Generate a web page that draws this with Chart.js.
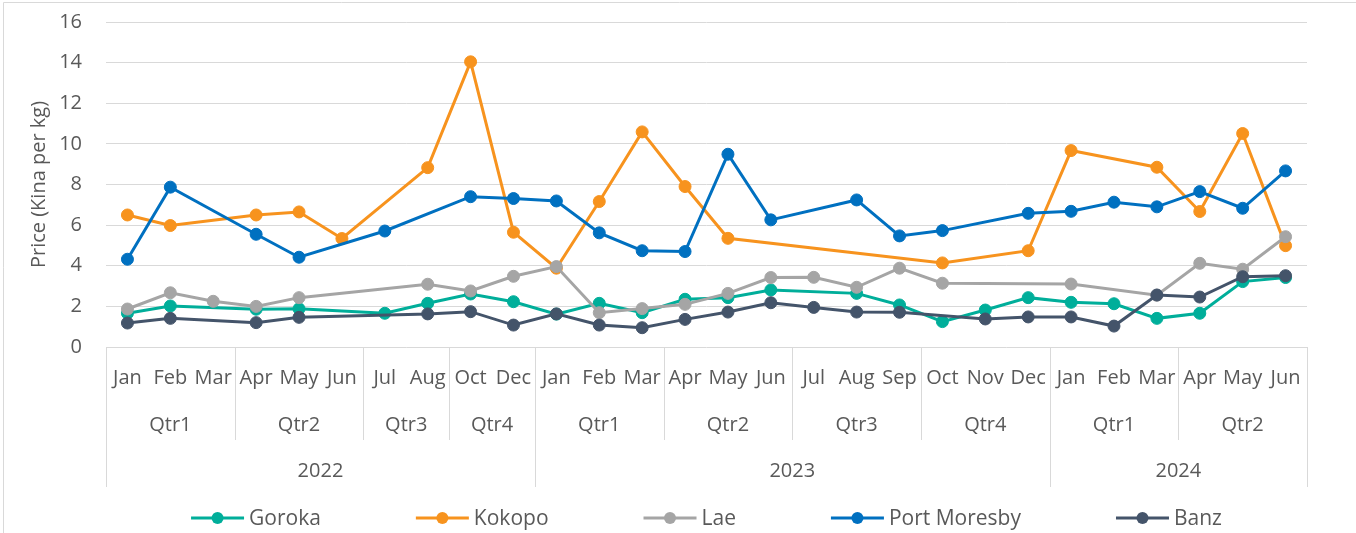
<!DOCTYPE html>
<html lang="en">
<head>
<meta charset="UTF-8">
<title>Price (Kina per kg)</title>
<script src="https://cdn.jsdelivr.net/npm/chart.js"></script>
<style>
  html, body { margin: 0; padding: 0; background: #fff; }
  #wrap { width: 1356px; height: 533px; }
</style>
</head>
<body>
<div id="wrap"><canvas id="myChart" width="1356" height="533"></canvas></div>
<script>
const months = ['Jan','Feb','Mar','Apr','May','Jun','Jul','Aug','Oct','Dec',
                'Jan','Feb','Mar','Apr','May','Jun','Jul','Aug','Sep','Oct','Nov','Dec',
                'Jan','Feb','Mar','Apr','May','Jun'];
const quarters = ['Qtr1','Qtr2','Qtr3','Qtr4','Qtr1','Qtr2','Qtr3','Qtr4','Qtr1','Qtr2'];
const quarterSizes = [3,3,2,2,3,3,3,3,3,3];
const years = ['2022','2023','2024'];
const yearSizes = [10,12,6];
const yTicks = [0,2,4,6,8,10,12,14,16];

const goroka = [1.66,2.02,null,1.86,1.88,null,1.66,2.15,2.61,2.23,
                1.62,2.15,1.69,2.35,2.43,2.81,null,2.64,2.07,1.25,1.82,2.43,
                2.20,2.13,1.41,1.66,3.22,3.42];
const kokopo = [6.50,5.98,null,6.50,6.65,5.34,null,8.83,14.04,5.65,
                3.88,7.16,10.59,7.90,5.35,null,null,null,null,4.14,null,4.74,
                9.67,null,8.85,6.67,10.51,4.99];
const lae = [1.87,2.67,2.25,2.00,2.43,null,null,3.09,2.76,3.48,
             3.96,1.69,1.89,2.10,2.64,3.42,3.43,2.94,3.88,3.14,null,null,
             3.10,null,2.55,4.12,3.83,5.43];
const portMoresby = [4.32,7.87,null,5.55,4.42,null,5.71,null,7.40,7.31,
                     7.19,5.62,4.74,4.70,9.49,6.26,null,7.24,5.47,5.73,null,6.58,
                     6.68,7.13,6.90,7.65,6.83,8.67];
const banz = [1.18,1.41,null,1.20,1.46,null,null,1.63,1.74,1.08,
              1.63,1.08,0.95,1.36,1.72,2.18,1.95,1.72,1.71,null,1.38,1.48,
              1.48,1.03,2.56,2.46,3.46,3.51];

const seriesNames = ['Goroka','Kokopo','Lae','Port Moresby','Banz'];
const seriesData = [goroka, kokopo, lae, portMoresby, banz];
const seriesColors = ['#00AE9A','#F7931E','#A5A5A5','#0070C0','#44546A'];

const FONT = "'Open Sans', sans-serif";
const TEXT = '#595959';
const GRID = '#D9D9D9';

// draws the quarter / year rows under the month labels
const multiLevelAxis = {
  id: 'multiLevelAxis',
  afterDraw(chart) {
    const ctx = chart.ctx;
    const xs = chart.scales.x;
    const top = chart.chartArea.bottom;
    const half = (xs.getPixelForValue(1) - xs.getPixelForValue(0)) / 2;
    const qBottom = top + 93;
    const yBottom = top + 140;
    ctx.save();
    ctx.strokeStyle = GRID;
    ctx.lineWidth = 1;
    ctx.fillStyle = TEXT;
    ctx.font = '20px ' + FONT;
    ctx.textAlign = 'center';
    ctx.textBaseline = 'middle';
    const vline = (x, y1) => {
      const px = Math.round(x) + 0.5;
      ctx.beginPath();
      ctx.moveTo(px, top);
      ctx.lineTo(px, y1);
      ctx.stroke();
    };
    vline(xs.getPixelForValue(0) - half, yBottom);
    let idx = 0;
    quarterSizes.forEach((n, k) => {
      const x0 = xs.getPixelForValue(idx) - half;
      const x1 = xs.getPixelForValue(idx + n - 1) + half;
      ctx.fillText(quarters[k], (x0 + x1) / 2, top + 78);
      vline(x1, qBottom);
      idx += n;
    });
    idx = 0;
    yearSizes.forEach((n, k) => {
      const x0 = xs.getPixelForValue(idx) - half;
      const x1 = xs.getPixelForValue(idx + n - 1) + half;
      ctx.fillText(years[k], (x0 + x1) / 2, top + 124);
      vline(x1, yBottom);
      idx += n;
    });
    // outer chart border
    ctx.beginPath();
    ctx.moveTo(3.5, chart.height);
    ctx.lineTo(3.5, 2.5);
    ctx.lineTo(chart.width, 2.5);
    ctx.stroke();
    ctx.restore();
  }
};

// legend: line with a marker, then the name
const lineLegend = {
  id: 'lineLegend',
  afterDraw(chart) {
    const ctx = chart.ctx;
    const area = chart.chartArea;
    ctx.save();
    ctx.font = '21px ' + FONT;
    ctx.textBaseline = 'middle';
    ctx.textAlign = 'left';
    const sym = 53, gap = 5, spacing = 95;
    const widths = seriesNames.map(n => ctx.measureText(n).width);
    const total = widths.reduce((a, w) => a + sym + gap + w, 0) + spacing * (seriesNames.length - 1);
    let x = (area.left + area.right) / 2 - total / 2;
    const y = 518;
    seriesNames.forEach((name, i) => {
      ctx.strokeStyle = seriesColors[i];
      ctx.fillStyle = seriesColors[i];
      ctx.lineWidth = 3;
      ctx.beginPath();
      ctx.moveTo(x, y);
      ctx.lineTo(x + sym, y);
      ctx.stroke();
      ctx.beginPath();
      ctx.arc(x + sym / 2, y, 6, 0, Math.PI * 2);
      ctx.fill();
      ctx.fillStyle = TEXT;
      ctx.fillText(name, x + sym + gap, y + 1);
      x += sym + gap + widths[i] + spacing;
    });
    ctx.restore();
  }
};

const ctx = document.getElementById('myChart');

new Chart(ctx, {
  type: 'line',
  data: {
    labels: months,
    datasets: seriesNames.map((name, i) => ({
      label: name,
      data: seriesData[i],
      borderColor: seriesColors[i],
      backgroundColor: seriesColors[i],
      borderWidth: 3,
      pointRadius: 6,
      pointBorderWidth: 1,
      pointHoverRadius: 6,
      fill: false,
      tension: 0,
      spanGaps: true,
      order: seriesNames.length - i
    }))
  },
  options: {
    responsive: false,
    animation: false,
    events: [],
    layout: { padding: { left: 0, right: 49, top: 22, bottom: 46 } },
    plugins: {
      legend: { display: false },
      tooltip: { enabled: false }
    },
    scales: {
      x: {
        type: 'category',
        offset: true,
        grid: { display: false, drawTicks: false },
        border: { display: false },
        ticks: {
          autoSkip: false,
          maxRotation: 0,
          minRotation: 0,
          padding: 19,
          color: TEXT,
          font: { family: FONT, size: 20 }
        },
        afterFit(scale) { scale.height = 140; }
      },
      y: {
        min: 0,
        max: 16,
        afterBuildTicks(scale) { scale.ticks = yTicks.map(v => ({ value: v })); },
        grid: { color: GRID, lineWidth: 1, drawTicks: false },
        border: { display: false },
        ticks: {
          padding: 24,
          color: TEXT,
          font: { family: FONT, size: 20 }
        },
        title: {
          display: true,
          text: 'Price (Kina per kg)',
          color: TEXT,
          font: { family: FONT, size: 20 },
          padding: { top: 27, bottom: 0 }
        },
        afterFit(scale) {
          scale.width = 106;
          scale.paddingTop = 0;
          scale.paddingBottom = 0;
        }
      }
    }
  },
  plugins: [multiLevelAxis, lineLegend]
});
</script>
</body>
</html>
